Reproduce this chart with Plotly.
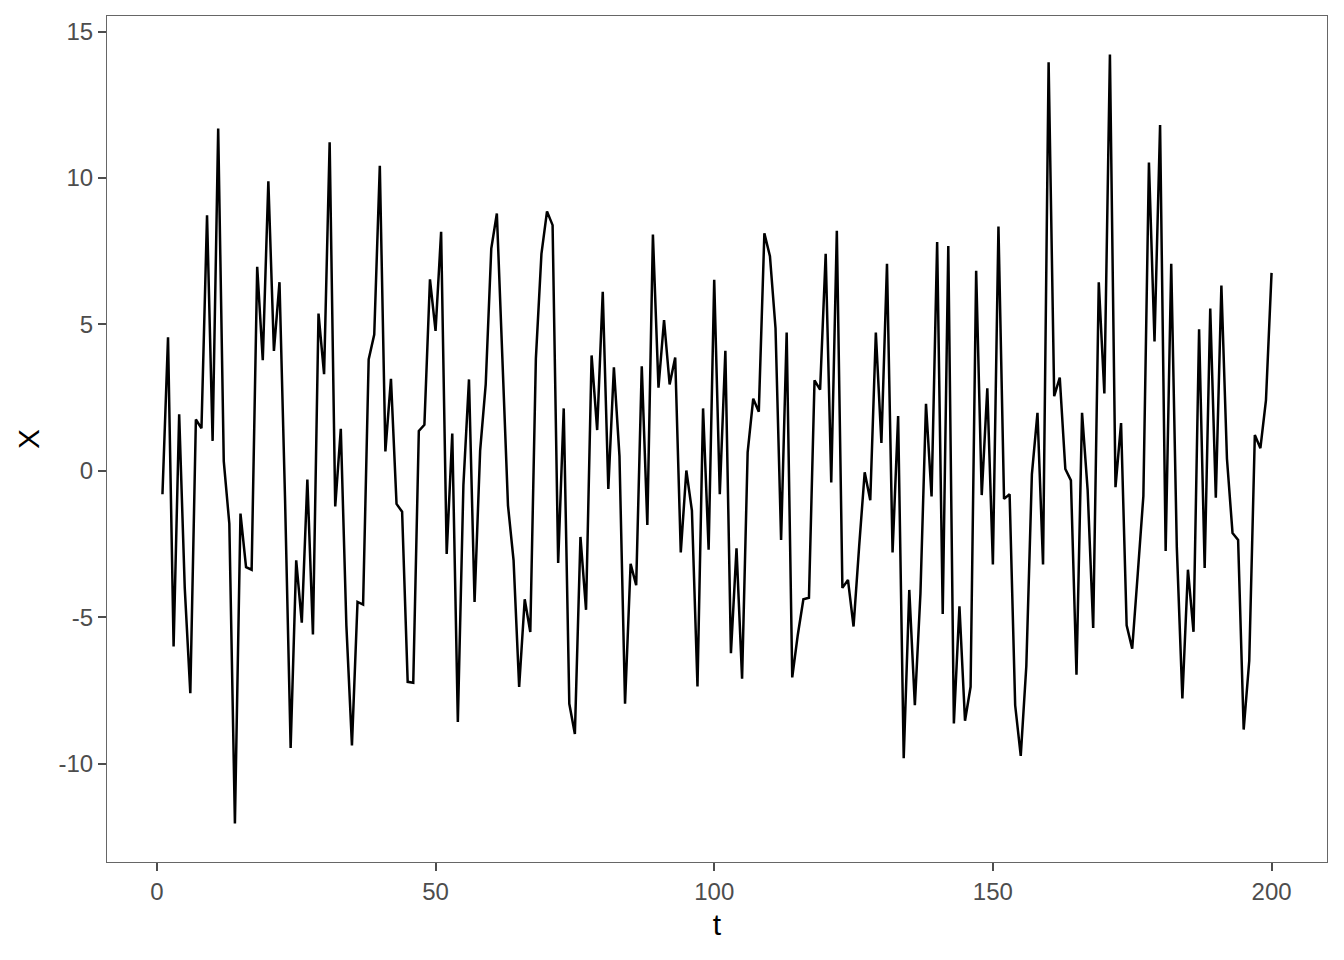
import plotly.graph_objects as go

t = list(range(1, 201))
X = [
    -0.80, 4.56, -6.00, 1.93, -4.00, -7.60, 1.75, 1.45, 8.73, 1.02,
    11.69, 0.33, -1.81, -12.05, -1.46, -3.29, -3.38, 6.97, 3.78, 9.89,
    4.09, 6.44, -1.00, -9.47, -3.06, -5.19, -0.30, -5.59, 5.37, 3.30,
    11.22, -1.22, 1.43, -5.28, -9.38, -4.48, -4.57, 3.80, 4.65, 10.42,
    0.66, 3.14, -1.13, -1.40, -7.21, -7.24, 1.36, 1.57, 6.54, 4.78,
    8.16, -2.84, 1.27, -8.58, -0.48, 3.12, -4.48, 0.68, 2.95, 7.59,
    8.79, 4.00, -1.19, -3.06, -7.38, -4.39, -5.51, 3.83, 7.41, 8.86,
    8.39, -3.15, 2.13, -7.96, -8.99, -2.26, -4.75, 3.94, 1.39, 6.11,
    -0.62, 3.53, 0.50, -7.96, -3.18, -3.91, 3.57, -1.85, 8.07, 2.84,
    5.15, 2.95, 3.87, -2.79, 0.01, -1.36, -7.37, 2.13, -2.70, 6.52,
    -0.80, 4.10, -6.23, -2.65, -7.10, 0.63, 2.46, 2.02, 8.11, 7.33,
    4.87, -2.36, 4.72, -7.06, -5.60, -4.39, -4.34, 3.09, 2.77, 7.41,
    -0.40, 8.20, -4.00, -3.73, -5.32, -2.60, -0.05, -1.01, 4.72, 0.95,
    7.07, -2.79, 1.87, -9.82, -4.07, -8.01, -4.20, 2.29, -0.88, 7.81,
    -4.89, 7.68, -8.63, -4.63, -8.54, -7.38, 6.83, -0.83, 2.82, -3.20,
    8.34, -0.96, -0.80, -8.01, -9.74, -6.67, -0.12, 1.98, -3.20, 13.95,
    2.55, 3.18, 0.06, -0.33, -6.97, 1.98, -0.65, -5.37, 6.44, 2.64,
    14.22, -0.56, 1.63, -5.28, -6.08, -3.50, -0.87, 10.53, 4.42, 11.81,
    -2.74, 7.07, -2.60, -7.78, -3.38, -5.50, 4.83, -3.32, 5.54, -0.92,
    6.33, 0.41, -2.13, -2.36, -8.84, -6.49, 1.22, 0.77, 2.41, 6.76,
]

x_ticks = [0, 50, 100, 150, 200]
y_ticks = [-10, -5, 0, 5, 10, 15]

FONT = "Liberation Sans, Arial, sans-serif"

fig = go.Figure()
fig.add_trace(go.Scatter(x=t, y=X, mode="lines",
                         line=dict(color="black", width=2.5),
                         showlegend=False, hoverinfo="skip"))

xr = [min(t) - 0.05 * (max(t) - min(t)), max(t) + 0.05 * (max(t) - min(t))]
yr = [min(X) - 0.05 * (max(X) - min(X)), max(X) + 0.05 * (max(X) - min(X))]

axis_common = dict(
    showgrid=False, zeroline=False, showline=True, mirror=True,
    linecolor="#666666", linewidth=1.2,
    ticks="outside", ticklen=8, tickwidth=1.8, tickcolor="#4D4D4D",
    tickfont=dict(family=FONT, size=24, color="#4D4D4D"),
)

fig.update_layout(
    width=1336, height=952,
    margin=dict(l=99, r=17, t=8, b=98),
    paper_bgcolor="white", plot_bgcolor="white",
    xaxis=dict(range=xr, tickvals=x_ticks,
               title=dict(text="t", standoff=10,
                          font=dict(family=FONT, size=30, color="black")),
               **axis_common),
    yaxis=dict(range=yr, tickvals=y_ticks, ticktext=[str(v) for v in y_ticks],
               title=dict(text="X", standoff=9,
                          font=dict(family=FONT, size=30, color="black")),
               **axis_common),
)

fig.write_html("out.html")
